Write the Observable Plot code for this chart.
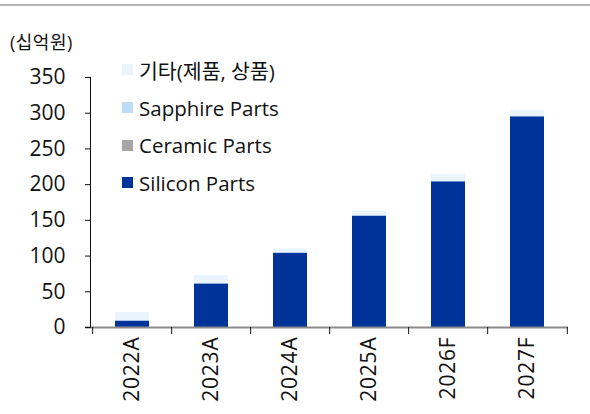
<!DOCTYPE html>
<html>
<head>
<meta charset="utf-8">
<script src="https://cdn.jsdelivr.net/npm/d3@7"></script>
<script src="https://cdn.jsdelivr.net/npm/@observablehq/plot@0.6"></script>
<style>
  body { margin: 0; background: #fff; }
  #wrap { position: relative; width: 590px; height: 414px; font-family: "Open Sans", "Noto Sans CJK KR", sans-serif; color: #111; }
  #topline { position: absolute; left: 0; top: 4px; width: 590px; height: 2px; background: #b4b4b4; }
  #unit { position: absolute; left: 10px; top: 28px; font-size: 18px; letter-spacing: 0.5px; }
  #legend { position: absolute; left: 122px; top: 51px; }
  .item { display: flex; align-items: center; height: 37.7px; font-size: 20.5px; }
  .sw { width: 11px; height: 11px; margin-right: 6px; }
  svg { position: absolute; left: 0; top: 0; }
  .xax text { letter-spacing: 0.8px; }
</style>
</head>
<body>
<div id="wrap">
  <div id="topline"></div>
  <div id="unit">(십억원)</div>
  <div id="legend"></div>
</div>
<script>
const years = ["2022A", "2023A", "2024A", "2025A", "2026F", "2027F"];
const seriesNames = ["Silicon Parts", "Ceramic Parts", "Sapphire Parts", "기타(제품, 상품)"];
const silicon  = [9, 61, 104, 156, 204, 295];
const ceramic  = [0, 0, 0, 0, 0, 0];
const sapphire = [1, 1, 1, 1, 1, 1];
const others   = [11, 11, 5, 6, 9, 8];
const yTicks = [0, 50, 100, 150, 200, 250, 300, 350];
const colors = ["#003399", "#a6a6a6", "#bddcf6", "#eaf4fe"];
const legendOrder = ["기타(제품, 상품)", "Sapphire Parts", "Ceramic Parts", "Silicon Parts"];

const values = [silicon, ceramic, sapphire, others];
const data = [];
seriesNames.forEach((s, si) => years.forEach((y, i) => data.push({year: y, series: s, value: values[si][i]})));

const W = 590, H = 414, mT = 77, mB = 87, mL = 90, mR = 22;
const step = (W - mL - mR) / years.length;
const plotH = H - mT - mB;

const chart = Plot.plot({
  width: W, height: H,
  marginTop: mT, marginBottom: mB, marginLeft: mL, marginRight: mR,
  style: {fontFamily: '"Open Sans", "Noto Sans CJK KR", sans-serif', fontSize: "21px", color: "#111", background: "transparent"},
  x: {domain: years, paddingInner: 0.57, paddingOuter: 0.285, label: null},
  y: {domain: [0, 350], label: null},
  color: {domain: seriesNames, range: colors},
  marks: [
    Plot.barY(data, {x: "year", y: "value", fill: "series", order: seriesNames}),
    Plot.ruleY([0], {stroke: "#8a8a8a", strokeWidth: 2, insetLeft: -5}),
    Plot.frame({anchor: "left", stroke: "#111", strokeWidth: 1}),
    Plot.axisY({ticks: yTicks, tickSize: 5, tickPadding: 20, stroke: "#111", fontSize: 21, tickFormat: d => d}),
    Plot.axisX({tickSize: 0, tickRotate: -90, tickPadding: 9, fontSize: 21, className: "xax"}),
    Plot.ruleX(years, {x: d => d, dx: -step / 2, insetTop: plotH, insetBottom: -7, stroke: "#111"}),
    Plot.ruleX(years.slice(-1), {x: d => d, dx: step / 2, insetTop: plotH, insetBottom: -7, stroke: "#111"})
  ]
});
document.getElementById("wrap").appendChild(chart);

const leg = document.getElementById("legend");
legendOrder.forEach(name => {
  const it = document.createElement("div");
  it.className = "item";
  const sw = document.createElement("div");
  sw.className = "sw";
  sw.style.background = colors[seriesNames.indexOf(name)];
  const tx = document.createElement("span");
  tx.textContent = name;
  it.appendChild(sw); it.appendChild(tx);
  leg.appendChild(it);
});
</script>
</body>
</html>
